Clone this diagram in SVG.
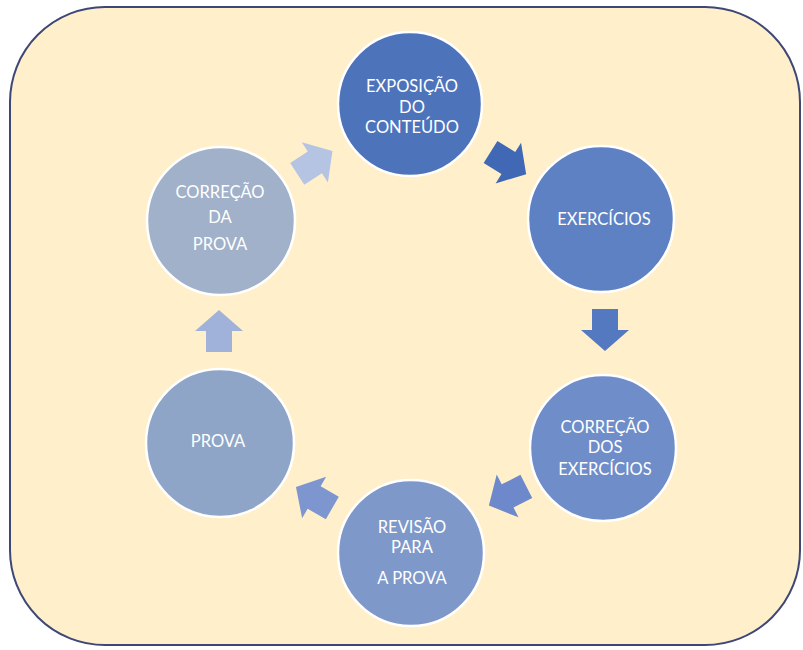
<svg xmlns="http://www.w3.org/2000/svg" width="803" height="650" viewBox="0 0 803 650">
<defs>
<style>
.node circle{stroke:#ffffff;stroke-width:2.5}
.node text{font-family:Lato,"Open Sans","Liberation Sans",sans-serif;font-size:16.5px;fill:#ffffff;text-anchor:middle}
</style>
<path id="arr" d="M-20,-13 L1,-13 L1,-24 L22,0 L1,24 L1,13 L-20,13 Z"/>
</defs>
<rect x="0" y="0" width="803" height="650" fill="#ffffff"/>
<rect x="10" y="7" width="790" height="638" rx="95" ry="95" fill="#fff0cb" stroke="#3e4776" stroke-width="2"/>
<g id="connectors">
<use href="#arr" fill="#4168b4" transform="translate(507.5,162.5) rotate(32)"/>
<use href="#arr" fill="#5579c1" transform="translate(605,329) rotate(90)"/>
<use href="#arr" fill="#6d89cb" transform="translate(508.5,495.5) rotate(153)"/>
<use href="#arr" fill="#7e96cf" transform="translate(315,498) rotate(210)"/>
<use href="#arr" fill="#a0b1da" transform="translate(219,332) rotate(-90)"/>
<use href="#arr" fill="#b6c4e4" transform="translate(314,163) rotate(-33)"/>
</g>
<g id="n1" class="node"><circle cx="410" cy="104" r="72" fill="#4d73bb"/>
<text x="412" y="92">EXPOSIÇÃO</text><text x="412" y="113">DO</text><text x="412" y="133">CONTEÚDO</text></g>
<g id="n2" class="node"><circle cx="601" cy="219" r="73" fill="#5e81c3"/>
<text x="604" y="225">EXERCÍCIOS</text></g>
<g id="n3" class="node"><circle cx="603" cy="448" r="73" fill="#6f8dc8"/>
<text x="605" y="433">CORREÇÃO</text><text x="605" y="453">DOS</text><text x="605" y="475">EXERCÍCIOS</text></g>
<g id="n4" class="node"><circle cx="411" cy="553" r="73" fill="#7e98c9"/>
<text x="412" y="533">REVISÃO</text><text x="412" y="553">PARA</text><text x="412" y="584">A PROVA</text></g>
<g id="n5" class="node"><circle cx="220" cy="443" r="74" fill="#8ea5c7"/>
<text x="218" y="447">PROVA</text></g>
<g id="n6" class="node"><circle cx="221" cy="221" r="74" fill="#a0b1c9"/>
<text x="220" y="198">CORREÇÃO</text><text x="220" y="223">DA</text><text x="220" y="250">PROVA</text></g>
</svg>
